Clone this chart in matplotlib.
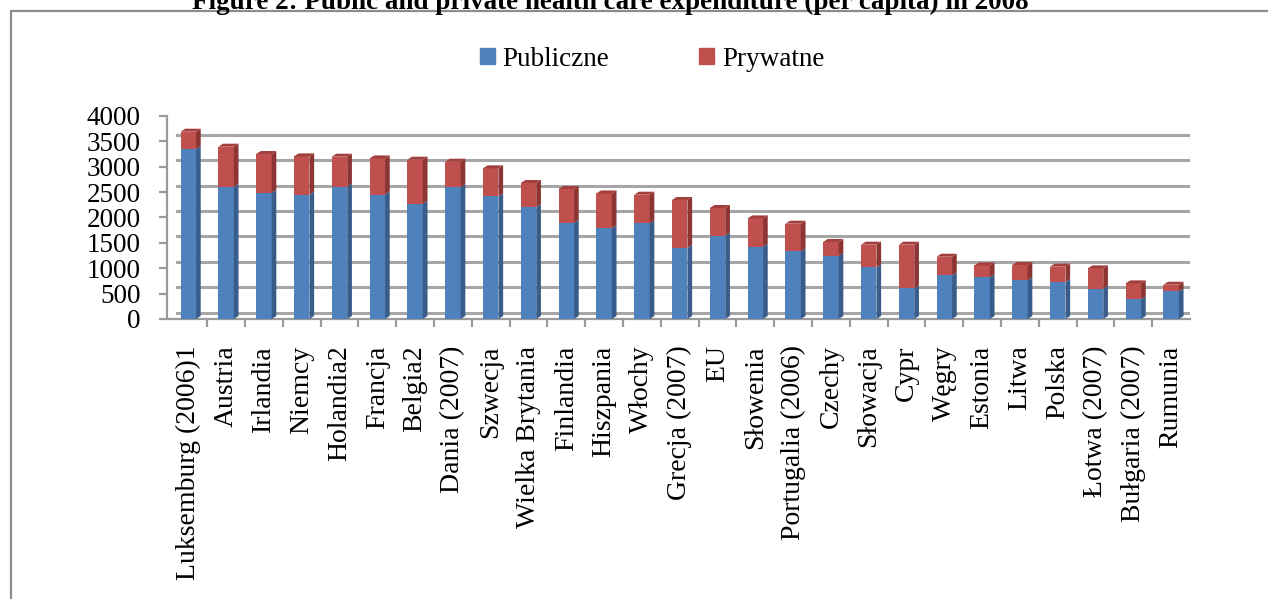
import numpy as np
import matplotlib.pyplot as plt
from matplotlib.patches import Polygon, Patch
from matplotlib.lines import Line2D
from matplotlib.transforms import ScaledTranslation

plt.rcParams['font.family'] = ['Liberation Serif', 'DejaVu Serif']

countries = ['Luksemburg (2006)1', 'Austria', 'Irlandia', 'Niemcy', 'Holandia2',
             'Francja', 'Belgia2', 'Dania (2007)', 'Szwecja', 'Wielka Brytania',
             'Finlandia', 'Hiszpania', 'Włochy', 'Grecja (2007)', 'EU', 'Słowenia',
             'Portugalia (2006)', 'Czechy', 'Słowacja', 'Cypr', 'Węgry', 'Estonia',
             'Litwa', 'Polska', 'Łotwa (2007)', 'Bułgaria (2007)', 'Rumunia']
publiczne = [3346, 2604, 2486, 2447, 2604, 2447, 2270, 2591, 2413, 2197,
             1896, 1791, 1882, 1398, 1640, 1423, 1331, 1240, 1016, 602,
             858, 819, 760, 728, 596, 386, 543]
razem = [3687, 3392, 3248, 3201, 3195, 3161, 3136, 3096, 2965, 2677,
         2559, 2472, 2447, 2343, 2185, 1980, 1876, 1516, 1463, 1463,
         1226, 1055, 1063, 1030, 996, 701, 675]
prywatne = [t - p for t, p in zip(razem, publiczne)]
yticks = [0, 500, 1000, 1500, 2000, 2500, 3000, 3500, 4000]

blue, blue_side = '#4F81BD', '#385D8A'
red, red_side, red_top = '#C0504D', '#8C3533', '#A33F3C'

W, H = 1268, 599
fig = plt.figure(figsize=(W / 100, H / 100), dpi=100)
ax = fig.add_axes([167 / W, 1 - 319 / H, (1190 - 167) / W, (319 - 115.8) / H])

x = np.arange(len(countries))
w = 0.41
ax.bar(x, publiczne, w, color=blue, zorder=3)
ax.bar(x, prywatne, w, bottom=publiczne, color=red, zorder=3)

# pseudo 3D faces (depth in data units)
dx, dy = 0.124, 59
for xi, p, t in zip(x, publiczne, razem):
    r = xi + w / 2
    ax.add_patch(Polygon([(r, 0), (r + dx, dy), (r + dx, p + dy), (r, p)],
                         closed=True, fc=blue_side, ec='none', zorder=3))
    ax.add_patch(Polygon([(r, p), (r + dx, p + dy), (r + dx, t + dy), (r, t)],
                         closed=True, fc=red_side, ec='none', zorder=3))
    ax.add_patch(Polygon([(xi - w / 2, t), (xi - w / 2 + dx, t + dy), (r + dx, t + dy), (r, t)],
                         closed=True, fc=red_top, ec='none', zorder=3))

ax.set_xlim(-0.563, 26.5)
ax.set_ylim(0, 4000)
ax.set_yticks(yticks)
ax.set_yticklabels([str(v) for v in yticks], fontsize=19.5)
ax.set_xticks(x)
ax.set_xticklabels(countries, rotation=90, fontsize=20)
ax.set_xticks(x[:-1] + 0.5, minor=True)
ax.tick_params(axis='x', which='major', length=0, pad=19)
ax.tick_params(axis='x', which='minor', length=6, width=1.6, color='#9A9A9A', direction='out')
ax.tick_params(axis='y', length=6, width=1.6, color='#9A9A9A', pad=13)

ax.grid(axis='y', color='#A6A6A6', linewidth=2.2, zorder=0)
ax.set_axisbelow(True)
shift = ScaledTranslation(10 / 100, 6.5 / 100, fig.dpi_scale_trans)
for gl in ax.get_ygridlines():
    gl.set_transform(gl.get_transform() + shift)

for s in ['top', 'right']:
    ax.spines[s].set_visible(False)
for s in ['left', 'bottom']:
    ax.spines[s].set_color('#9A9A9A')
    ax.spines[s].set_linewidth(1.6)

fig.legend(handles=[Patch(color=blue, label='Publiczne'), Patch(color=red, label='Prywatne')],
           loc='center', bbox_to_anchor=(652 / W, 1 - 59 / H), ncol=2, frameon=False,
           fontsize=19.5, handlelength=0.55, handleheight=0.55, handletextpad=0.3,
           columnspacing=3.3)

fig.text(610 / W, 1 - 9 / H,
         'Figure 2: Public and private health care expenditure (per capita) in 2008',
         ha='center', va='baseline', fontsize=19.5, fontweight='bold')

fig.add_artist(Line2D([11 / W, 11 / W, 1.01], [-0.01, 1 - 11 / H, 1 - 11 / H],
                      transform=fig.transFigure, color='#8C8C8C', linewidth=1.6))

fig.savefig('out.png', dpi=100)
